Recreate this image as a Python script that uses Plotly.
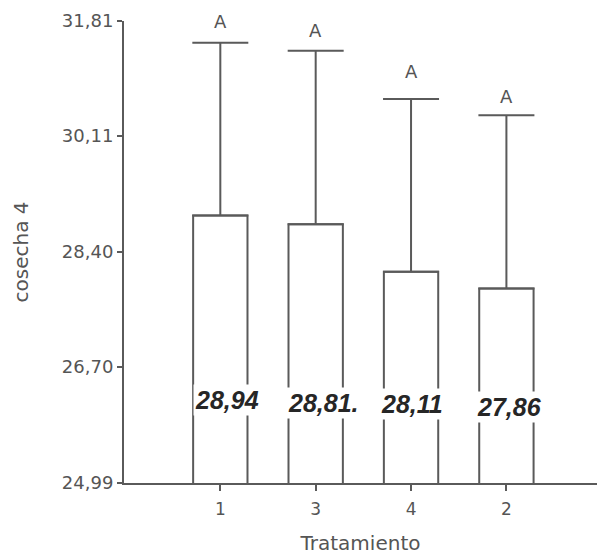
import plotly.graph_objects as go

# ---- data ----
categories = ["1", "3", "4", "2"]
means = [28.94, 28.81, 28.11, 27.86]
error_up = [2.55, 2.56, 2.55, 2.56]
value_labels = ["28,94", "28,81.", "28,11", "27,86"]
group_letters = ["A", "A", "A", "A"]
y_tickvals = [24.99, 26.70, 28.40, 30.11, 31.81]
y_ticktext = ["24,99", "26,70", "28,40", "30,11", "31,81"]
x_title = "Tratamiento"
y_title = "cosecha 4"

# ---- style / layout helpers ----
LINE = "#5a5a5a"
TEXT = "#555555"
Y_MIN, Y_MAX = y_tickvals[0], y_tickvals[-1]
letter_shift = [21, 20, 27, 19]
label_yshift = [83, 80, 79, 76]
label_xshift = [7, 8, 1, 3]

fig = go.Figure()
fig.add_trace(go.Bar(
    x=categories,
    y=means,
    width=0.57,
    marker=dict(color="white", line=dict(color=LINE, width=2)),
    error_y=dict(type="data", array=error_up, arrayminus=[0] * len(means),
                 symmetric=False, color=LINE, thickness=2, width=28),
    showlegend=False,
    hoverinfo="skip",
))

annotations = []
for i, cat in enumerate(categories):
    annotations.append(dict(
        x=i, y=means[i] + error_up[i], xref="x", yref="y",
        text=group_letters[i], showarrow=False, yanchor="middle",
        yshift=letter_shift[i],
        font=dict(family="DejaVu Sans", size=18, color=TEXT),
    ))
    annotations.append(dict(
        x=i, y=Y_MIN, xref="x", yref="y",
        text="<b><i>" + value_labels[i] + "</i></b>", showarrow=False,
        yanchor="middle", yshift=label_yshift[i], xshift=label_xshift[i],
        bgcolor="white", borderpad=1,
        font=dict(family="Liberation Sans", size=25, color="#262626"),
    ))

fig.update_layout(
    width=597, height=555,
    margin=dict(l=124, r=0, t=21, b=72),
    plot_bgcolor="white", paper_bgcolor="white",
    annotations=annotations,
    xaxis=dict(
        type="category", range=[-1.01, 3.95], automargin=False,
        showline=True, linecolor=LINE, linewidth=2,
        ticks="outside", ticklen=6, tickwidth=2, tickcolor=LINE,
        ticklabelstandoff=4,
        tickfont=dict(family="DejaVu Sans", size=17, color=TEXT),
        showgrid=False, zeroline=False,
        title=dict(text=x_title, standoff=18,
                   font=dict(family="DejaVu Sans", size=20, color=TEXT)),
    ),
    yaxis=dict(
        range=[Y_MIN, Y_MAX], automargin=False,
        tickvals=y_tickvals, ticktext=y_ticktext,
        showline=True, linecolor=LINE, linewidth=2,
        ticks="outside", ticklen=5, tickwidth=2, tickcolor=LINE,
        tickfont=dict(family="DejaVu Sans", size=18, color=TEXT),
        showgrid=False, zeroline=False,
        title=dict(text=y_title, standoff=28,
                   font=dict(family="DejaVu Sans", size=20, color=TEXT)),
    ),
)

fig.write_html("out.html",
               config={"displayModeBar": False},
               post_script="document.body.style.margin='0';")
